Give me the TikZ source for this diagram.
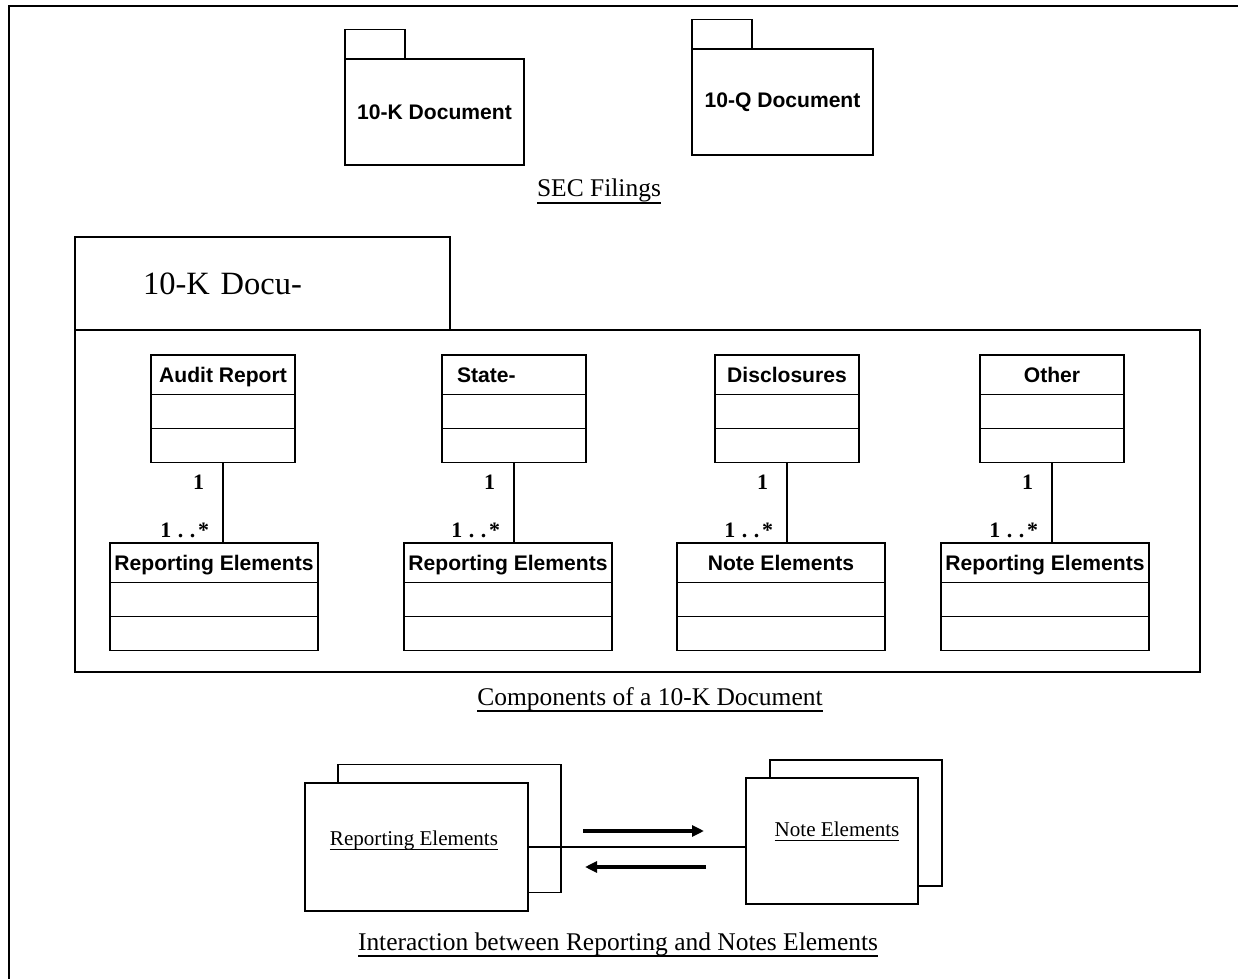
\documentclass[tikz,border=0pt]{standalone}
\usepackage{fontspec}
\setmainfont{Liberation Serif}
\setsansfont{Liberation Sans}
\usepackage{tikz}
\usetikzlibrary{arrows.meta, positioning}
\newcommand{\capline}[1]{\setbox0=\hbox{#1}\rlap{\copy0}\rule[-4.2pt]{\wd0}{1.1pt}}
\newcommand{\sheetline}[1]{\setbox0=\hbox{#1}\rlap{\copy0}\rule[-2.9pt]{\wd0}{0.6pt}}
\tikzset{
    outerframe/.style={
        draw=black,
        line width=1.6pt
    },
    pkgbox/.style={
        rectangle,
        draw=black,
        line width=1.1pt,
        outer sep=0pt,
        fill=white,
        font=\sffamily\bfseries\fontsize{12}{14}\selectfont
    },
    classhead/.style={
        rectangle,
        draw=black,
        line width=1.1pt,
        outer sep=0pt,
        inner xsep=1pt,
        minimum height=0.79cm,
        text height=10.9pt,
        text depth=2.5pt,
        font=\sffamily\bfseries\fontsize{12}{14}\selectfont
    },
    classpart/.style={
        rectangle,
        draw=black,
        line width=1.1pt,
        outer sep=0pt,
        minimum height=0.68cm
    },
    assoc/.style={
        draw=black,
        line width=1.1pt
    },
    mult/.style={
        inner sep=0pt,
        font=\bfseries\fontsize{12.5}{14}\selectfont
    },
    figcaption/.style={
        inner sep=0pt,
        anchor=base,
        font=\fontsize{14.5}{17}\selectfont
    },
    sheet/.style={
        rectangle,
        draw=black,
        line width=1.1pt,
        outer sep=0pt,
        fill=white
    },
    sheettext/.style={
        inner sep=0pt,
        anchor=base,
        font=\fontsize{12}{14}\selectfont
    },
    link/.style={
        draw=black,
        line width=0.6pt
    },
    flow/.style={
        draw=black,
        line width=1.8pt,
        -{Triangle[length=0.24cm, width=0.22cm]}
    }
}

\begin{document}
\begin{tikzpicture}[x=0.02cm, y=-0.02cm]
\useasboundingbox (0,0) rectangle (1238,979);

% Outer frame
\draw[outerframe] (9,979) -- (9,6) -- (1238,6);

% SEC Filings packages
\node[pkgbox, minimum width=3.58cm, minimum height=2.12cm] (tenk_pkg) at (434.5,112) {10-K Document};
\node[pkgbox, minimum width=1.2cm, minimum height=0.59cm, anchor=south west] (tenk_tab) at (tenk_pkg.north west) {};
\node[pkgbox, minimum width=3.62cm, minimum height=2.12cm] (tenq_pkg) at (782.5,102) {10-Q Document};
\node[pkgbox, minimum width=1.2cm, minimum height=0.59cm, anchor=south west] (tenq_tab) at (tenq_pkg.north west) {};
\node[figcaption] (sec_caption) at (599,197) {\capline{SEC Filings}};

% 10-K Document package
\node[pkgbox, minimum width=22.5cm, minimum height=6.84cm] (doc_body) at (637.5,501) {};
\node[pkgbox, minimum width=7.5cm, minimum height=1.86cm, text width=4.78cm, inner xsep=1.36cm, align=left,
      anchor=south west, font=\fontsize{18.5}{22}\selectfont] (doc_tab) at (doc_body.north west) {10-K Docu-};

% Audit Report
\node[classhead, minimum width=2.88cm] (audit_name) at (223,374.75) {Audit Report};
\node[classpart, minimum width=2.88cm, below=0pt of audit_name] (audit_attr) {};
\node[classpart, minimum width=2.88cm, below=0pt of audit_attr] (audit_ops) {};
\node[classhead, minimum width=4.16cm] (audit_rep) at (214,562.75) {Reporting Elements};
\node[classpart, minimum width=4.16cm, below=0pt of audit_rep] (audit_rep_attr) {};
\node[classpart, minimum width=4.16cm, below=0pt of audit_rep_attr] (audit_rep_ops) {};

% Statements
\node[classhead, minimum width=2.88cm, text width=2.28cm, inner xsep=0.3cm, align=left] (stmt_name) at (514,374.75) {State-};
\node[classpart, minimum width=2.88cm, below=0pt of stmt_name] (stmt_attr) {};
\node[classpart, minimum width=2.88cm, below=0pt of stmt_attr] (stmt_ops) {};
\node[classhead, minimum width=4.16cm] (stmt_rep) at (508,562.75) {Reporting Elements};
\node[classpart, minimum width=4.16cm, below=0pt of stmt_rep] (stmt_rep_attr) {};
\node[classpart, minimum width=4.16cm, below=0pt of stmt_rep_attr] (stmt_rep_ops) {};

% Disclosures
\node[classhead, minimum width=2.88cm] (disc_name) at (787,374.75) {Disclosures};
\node[classpart, minimum width=2.88cm, below=0pt of disc_name] (disc_attr) {};
\node[classpart, minimum width=2.88cm, below=0pt of disc_attr] (disc_ops) {};
\node[classhead, minimum width=4.16cm] (disc_note) at (781,562.75) {Note Elements};
\node[classpart, minimum width=4.16cm, below=0pt of disc_note] (disc_note_attr) {};
\node[classpart, minimum width=4.16cm, below=0pt of disc_note_attr] (disc_note_ops) {};

% Other
\node[classhead, minimum width=2.88cm] (other_name) at (1052,374.75) {Other};
\node[classpart, minimum width=2.88cm, below=0pt of other_name] (other_attr) {};
\node[classpart, minimum width=2.88cm, below=0pt of other_attr] (other_ops) {};
\node[classhead, minimum width=4.16cm] (other_rep) at (1045,562.75) {Reporting Elements};
\node[classpart, minimum width=4.16cm, below=0pt of other_rep] (other_rep_attr) {};
\node[classpart, minimum width=4.16cm, below=0pt of other_rep_attr] (other_rep_ops) {};

% Associations
\draw[assoc] (audit_ops.south) -- node[mult, pos=0.25, left=0.36cm] {1}
    node[mult, pos=0.84, left=0.26cm] {1\hspace{0.3em}.\hspace{0.3em}.\hspace{0.12em}*} (audit_ops.south |- audit_rep.north);
\draw[assoc] (stmt_ops.south) -- node[mult, pos=0.25, left=0.36cm] {1}
    node[mult, pos=0.84, left=0.26cm] {1\hspace{0.3em}.\hspace{0.3em}.\hspace{0.12em}*} (stmt_ops.south |- stmt_rep.north);
\draw[assoc] (disc_ops.south) -- node[mult, pos=0.25, left=0.36cm] {1}
    node[mult, pos=0.84, left=0.26cm] {1\hspace{0.3em}.\hspace{0.3em}.\hspace{0.12em}*} (disc_ops.south |- disc_note.north);
\draw[assoc] (other_ops.south) -- node[mult, pos=0.25, left=0.36cm] {1}
    node[mult, pos=0.84, left=0.26cm] {1\hspace{0.3em}.\hspace{0.3em}.\hspace{0.12em}*} (other_ops.south |- other_rep.north);

\node[figcaption] (doc_caption) at (650,705) {\capline{Components of a 10-K Document}};

% Interaction sheets
\node[sheet, minimum width=4.46cm, minimum height=2.56cm] (rep_back) at (449.5,828.5) {};
\node[sheet, minimum width=4.46cm, minimum height=2.56cm] (rep_front) at (416.5,847) {};
\node[sheettext] (rep_text) at (414,845) {\sheetline{Reporting Elements}};
\node[sheet, minimum width=3.44cm, minimum height=2.52cm] (note_back) at (856,823) {};
\node[sheet, minimum width=3.44cm, minimum height=2.52cm] (note_front) at (832,841) {};
\node[sheettext] (note_text) at (837,836) {\sheetline{Note Elements}};

\draw[link] (rep_front.east) -- (rep_front.east -| note_front.west);

\coordinate (fwd_start) at (583,831);
\coordinate (fwd_end) at (704,831);
\coordinate (back_start) at (706,867);
\coordinate (back_end) at (585,867);
\draw[flow] (fwd_start) -- (fwd_end);
\draw[flow] (back_start) -- (back_end);

\node[figcaption] (int_caption) at (618,950) {\capline{Interaction between Reporting and Notes Elements}};

\end{tikzpicture}
\end{document}
